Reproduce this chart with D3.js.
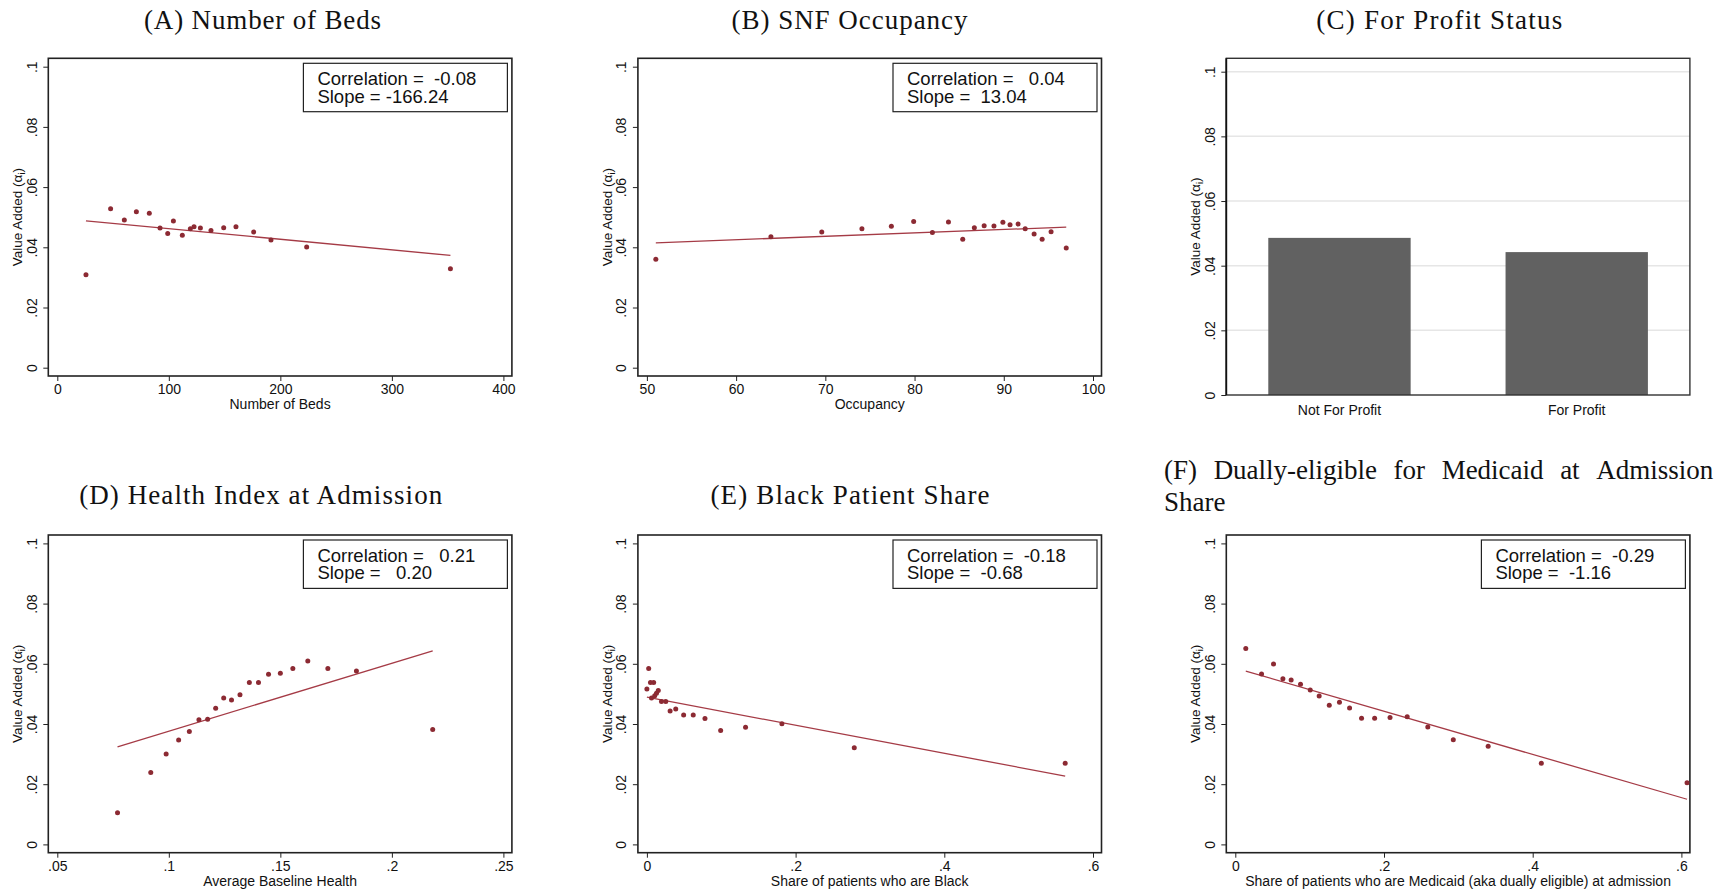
<!DOCTYPE html>
<html>
<head>
<meta charset="utf-8">
<script src="https://cdn.jsdelivr.net/npm/d3@7"></script>
<style>
  body { margin: 0; background: #fff; }
  text { font-family: "Liberation Sans", Arial, sans-serif; fill: #111; }
  .ttl { font-family: "Liberation Serif", "Times New Roman", serif; font-size: 27px; }
</style>
</head>
<body>
<script>
// values
const yTicks = [0, 0.02, 0.04, 0.06, 0.08, 0.1];

const bedsTicks = [0, 100, 200, 300, 400];
const bedsX = [25.7, 47.8, 60.1, 70.9, 82.5, 92.1, 99.0, 104.1, 112.1, 119.3, 122.6, 128.3, 137.8, 149.2, 160.2, 176.1, 191.6, 223.6, 352.5];
const bedsY = [0.0309, 0.0528, 0.0491, 0.0518, 0.0513, 0.0464, 0.0446, 0.0487, 0.0440, 0.0462, 0.0468, 0.0464, 0.0456, 0.0465, 0.0468, 0.0451, 0.0424, 0.0401, 0.0329];
const bedsFit = [[25.7, 0.0488], [352.5, 0.0373]];

const occTicks = [50, 60, 70, 80, 90, 100];
const occX = [51.0, 63.9, 69.6, 74.1, 77.4, 79.9, 82.0, 83.8, 85.4, 86.7, 87.8, 88.9, 89.9, 90.7, 91.6, 92.4, 93.4, 94.3, 95.3, 97.0];
const occY = [0.0360, 0.0435, 0.0451, 0.0462, 0.0470, 0.0486, 0.0449, 0.0484, 0.0427, 0.0465, 0.0472, 0.0471, 0.0483, 0.0475, 0.0477, 0.0462, 0.0444, 0.0427, 0.0452, 0.0398];
const occFit = [[51.0, 0.0415], [97.0, 0.0467]];

const profitCats = ["Not For Profit", "For Profit"];
const profitVA = [0.0486, 0.0442];

const healthTicks = [0.05, 0.1, 0.15, 0.2, 0.25];
const healthX = [0.0770, 0.0919, 0.0988, 0.1044, 0.1092, 0.1135, 0.1174, 0.1210, 0.1246, 0.1281, 0.1319, 0.1361, 0.1402, 0.1447, 0.1500, 0.1556, 0.1623, 0.1713, 0.1841, 0.2183];
const healthY = [0.0105, 0.0239, 0.0300, 0.0347, 0.0375, 0.0414, 0.0416, 0.0452, 0.0486, 0.0480, 0.0497, 0.0538, 0.0538, 0.0565, 0.0569, 0.0584, 0.0609, 0.0584, 0.0576, 0.0382];
const healthFit = [[0.0770, 0.0324], [0.2183, 0.0643]];

const shareTicks = [0, 0.2, 0.4, 0.6];
const blackX = [0.0000, 0.0024, 0.0048, 0.0062, 0.0091, 0.0105, 0.0129, 0.0153, 0.0196, 0.0254, 0.0312, 0.0388, 0.0494, 0.0623, 0.0781, 0.0992, 0.1327, 0.1816, 0.2789, 0.5626];
const blackY = [0.0516, 0.0584, 0.0538, 0.0486, 0.0538, 0.0494, 0.0502, 0.0511, 0.0475, 0.0475, 0.0443, 0.0450, 0.0430, 0.0430, 0.0418, 0.0378, 0.0389, 0.0401, 0.0321, 0.0270];
const blackFit = [[0.0, 0.0489], [0.5626, 0.0227]];

const dualX = [0.0141, 0.0353, 0.0514, 0.0640, 0.0751, 0.0877, 0.1008, 0.1128, 0.1264, 0.1401, 0.1537, 0.1698, 0.1874, 0.2081, 0.2312, 0.2589, 0.2932, 0.3401, 0.4116, 0.6076];
const dualY = [0.0651, 0.0566, 0.0599, 0.0550, 0.0546, 0.0532, 0.0513, 0.0493, 0.0462, 0.0472, 0.0453, 0.0419, 0.0419, 0.0422, 0.0424, 0.0390, 0.0348, 0.0326, 0.0270, 0.0205];
const dualFit = [[0.0141, 0.0576], [0.6076, 0.0150]];

const width = 1731, height = 891;
const dotColor = "#8c2a33", fitColor = "#a53b46";
const fmt = d => d === 0 ? "0" : String(d).replace(/^0\./, ".");

const svg = d3.select("body").append("svg")
    .attr("width", width)
    .attr("height", height)
    .attr("viewBox", [0, 0, width, height]);

svg.append("rect").attr("width", width).attr("height", height).attr("fill", "#fff");

const colLeft = [48.3, 637.9, 1226.3], frameW = 463.6;
const rowTop = [58.3, 535], frameH = 317.7;

function title(text, cx, y, len) {
  svg.append("text")
      .attr("class", "ttl")
      .attr("x", cx).attr("y", y)
      .attr("text-anchor", "middle")
      .attr("textLength", len)
      .attr("lengthAdjust", "spacing")
      .text(text);
}

function yTitle(g, x, cy) {
  const t = g.append("text")
      .attr("transform", `translate(${x},${cy}) rotate(-90)`)
      .attr("text-anchor", "middle")
      .style("font-size", "13.5px");
  t.append("tspan").text("Value Added (\u03b1");
  t.append("tspan").attr("font-size", "9px").attr("dy", 3).text("i");
  t.append("tspan").attr("dy", -3).text(")");
}

function yAxis(g, y, x0) {
  g.append("g")
      .attr("transform", `translate(${x0},0)`)
      .call(d3.axisLeft(y).tickValues(yTicks).tickFormat(fmt).tickSize(5))
      .call(a => a.select(".domain").remove())
      .call(a => a.selectAll("line").attr("stroke", "#222"))
      .call(a => a.selectAll("text")
          .attr("x", null).attr("dy", null)
          .attr("y", -11.5)
          .attr("transform", "rotate(-90)")
          .attr("text-anchor", "middle")
          .style("font-size", "14px").attr("fill", "#111"));
}

function scatter(o) {
  const x0 = colLeft[o.col], y0 = rowTop[o.row];
  const g = svg.append("g");
  const x = d3.scaleLinear().domain(d3.extent(o.ticks)).range([x0 + 9, x0 + frameW - 8.5]);
  const y = d3.scaleLinear().domain([0, 0.1]).range([y0 + frameH - 8.3, y0 + 8.4]);

  yAxis(g, y, x0);
  g.append("g")
      .attr("transform", `translate(0,${y0 + frameH})`)
      .call(d3.axisBottom(x).tickValues(o.ticks).tickFormat(fmt).tickSize(5))
      .call(a => a.select(".domain").remove())
      .call(a => a.selectAll("line").attr("stroke", "#222"))
      .call(a => a.selectAll("text").attr("y", 8).style("font-size", "14px").attr("fill", "#111"));

  g.append("rect")
      .attr("x", x0).attr("y", y0).attr("width", frameW).attr("height", frameH)
      .attr("fill", "none").attr("stroke", "#222").attr("stroke-width", 1.6);

  g.append("path")
      .attr("fill", "none").attr("stroke", fitColor).attr("stroke-width", 1.3)
      .attr("d", d3.line().x(d => x(d[0])).y(d => y(d[1]))(o.fit));

  g.append("g").attr("fill", dotColor)
    .selectAll("circle")
    .data(d3.zip(o.xs, o.ys))
    .join("circle")
      .attr("cx", d => x(d[0]))
      .attr("cy", d => y(d[1]))
      .attr("r", 2.5);

  const bx = x0 + frameW - 4.5 - 204, by = y0 + 5;
  g.append("rect")
      .attr("x", bx).attr("y", by).attr("width", 204).attr("height", 48.4)
      .attr("fill", "#fff").attr("stroke", "#222").attr("stroke-width", 1.2);
  g.append("text")
      .attr("x", bx + 14).attr("y", by + 21.7)
      .style("font-size", "18.5px").style("white-space", "pre")
      .text(o.stats[0]);
  g.append("text")
      .attr("x", bx + 14).attr("y", by + 39.3)
      .style("font-size", "18.5px").style("white-space", "pre")
      .text(o.stats[1]);

  g.append("text")
      .attr("x", x0 + frameW / 2).attr("y", y0 + frameH + 33)
      .attr("text-anchor", "middle")
      .style("font-size", "14px")
      .text(o.xTitle);

  yTitle(g, x0 - 26, y0 + frameH / 2);
}

scatter({col: 0, row: 0, ticks: bedsTicks, xs: bedsX, ys: bedsY, fit: bedsFit,
  stats: ["Correlation =  -0.08", "Slope = -166.24"], xTitle: "Number of Beds"});
scatter({col: 1, row: 0, ticks: occTicks, xs: occX, ys: occY, fit: occFit,
  stats: ["Correlation =   0.04", "Slope =  13.04"], xTitle: "Occupancy"});
scatter({col: 0, row: 1, ticks: healthTicks, xs: healthX, ys: healthY, fit: healthFit,
  stats: ["Correlation =   0.21", "Slope =   0.20"], xTitle: "Average Baseline Health"});
scatter({col: 1, row: 1, ticks: shareTicks, xs: blackX, ys: blackY, fit: blackFit,
  stats: ["Correlation =  -0.18", "Slope =  -0.68"], xTitle: "Share of patients who are Black"});
scatter({col: 2, row: 1, ticks: shareTicks, xs: dualX, ys: dualY, fit: dualFit,
  stats: ["Correlation =  -0.29", "Slope =  -1.16"],
  xTitle: "Share of patients who are Medicaid (aka dually eligible) at admission"});

// panel C: bars
{
  const x0 = colLeft[2], y0 = rowTop[0], h = 336.7;
  const g = svg.append("g");
  const x = d3.scaleBand().domain(profitCats).range([x0, x0 + frameW])
      .paddingInner(0.4).paddingOuter(0.177);
  const y = d3.scaleLinear().domain([0, 0.1]).range([y0 + h, y0 + 13.4]);

  g.append("g").attr("stroke", "#e6e6e6").attr("stroke-width", 1.5)
    .selectAll("line")
    .data(yTicks.filter(d => d > 0))
    .join("line")
      .attr("x1", x0).attr("x2", x0 + frameW)
      .attr("y1", d => y(d)).attr("y2", d => y(d));

  g.append("g").attr("fill", "#616161")
    .selectAll("rect")
    .data(d3.zip(profitCats, profitVA))
    .join("rect")
      .attr("x", d => x(d[0]))
      .attr("width", x.bandwidth())
      .attr("y", d => y(d[1]))
      .attr("height", d => y(0) - y(d[1]));

  yAxis(g, y, x0);
  g.append("g")
      .attr("transform", `translate(0,${y0 + h})`)
      .call(d3.axisBottom(x).tickSize(0))
      .call(a => a.select(".domain").remove())
      .call(a => a.selectAll("text").attr("y", 10).style("font-size", "14px").attr("fill", "#111"));

  g.append("rect")
      .attr("x", x0).attr("y", y0).attr("width", frameW).attr("height", h)
      .attr("fill", "none").attr("stroke", "#333").attr("stroke-width", 1.4);
  g.append("line")
      .attr("x1", x0).attr("x2", x0).attr("y1", y0).attr("y2", y0 + h)
      .attr("stroke", "#111").attr("stroke-width", 1.8);

  yTitle(g, x0 - 26, y0 + h / 2);
}

title("(A) Number of Beds", 262.5, 29.3, 237);
title("(B) SNF Occupancy", 849.5, 29.3, 236);
title("(C) For Profit Status", 1439.3, 29.3, 246);
title("(D) Health Index at Admission", 260.7, 503.5, 363);
title("(E) Black Patient Share", 850, 503.5, 279);

// panel F title, justified over two lines
{
  const words = ["(F)", "Dually-eligible", "for", "Medicaid", "at", "Admission"];
  const left = 1164.1, right = 1713.2;
  const ts = words.map(w => svg.append("text").attr("class", "ttl").attr("y", 479.3).text(w));
  const ws = ts.map(t => t.node().getComputedTextLength());
  const gap = (right - left - d3.sum(ws)) / (words.length - 1);
  let cx = left;
  ts.forEach((t, i) => { t.attr("x", cx); cx += ws[i] + gap; });
  svg.append("text").attr("class", "ttl").attr("x", left).attr("y", 510.5).text("Share");
}
</script>
</body>
</html>
